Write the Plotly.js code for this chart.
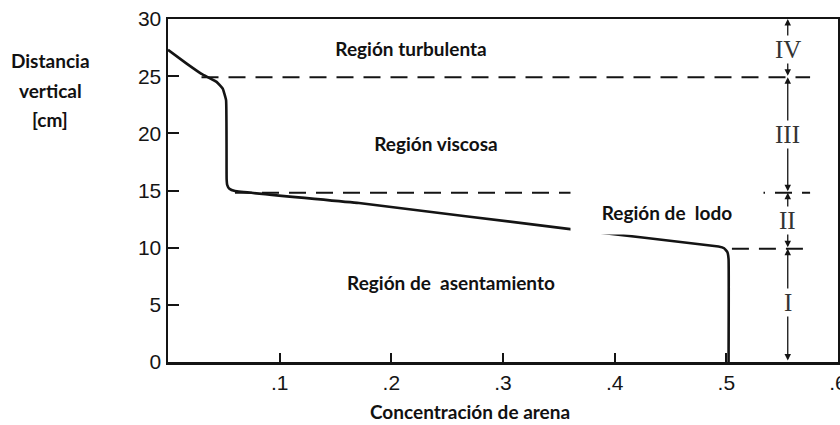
<!DOCTYPE html>
<html>
<head>
<meta charset="utf-8">
<script src="https://cdn.plot.ly/plotly-3.0.1.min.js"></script>
<style>
  html, body { margin: 0; padding: 0; background: #fff; }
  #perfil { width: 840px; height: 425px; }
</style>
</head>
<body>
<div id="perfil"></div>
<script>
// perfil de concentración (curva principal)
var conc = [0, 0.0167, 0.030, 0.0435, 0.049, 0.052, 0.0525, 0.053, 0.055, 0.06, 0.171, 0.362, 0.493, 0.498, 0.501, 0.502, 0.502];
var dist = [27.3, 26.1, 25.2, 24.5, 23.9, 22.9, 16.0, 15.5, 15.15, 14.95, 13.9, 11.6, 10.1, 9.95, 9.6, 9.0, 0];

// límites entre regiones (líneas discontinuas)
var yGuia = [24.9, 14.8, 9.9];
var xGuiaIni = [0.03, 0.06, 0.505];
var xGuiaFin = 0.575;

// cota vertical con números romanos
var xCota = 0.555;
var limites = [0, 9.9, 14.8, 24.9, 30];
var romanos = ['I', 'II', 'III', 'IV'];
var yRomanos = [5.2, 12.4, 19.9, 27.35];

// rótulos de regiones
var regiones = ['Región turbulenta', 'Región viscosa', 'Región de\u00a0 lodo', 'Región de\u00a0 asentamiento'];
var xRegion = [0.218, 0.240, 0.447, 0.2536];
var yRegion = [27.5, 19.16, 13.1, 7.0];

// ejes
var xTicks = [0.1, 0.2, 0.3, 0.4, 0.5, 0.6];
var xTickText = ['.1', '.2', '.3', '.4', '.5', '.6'];
var yTicks = [0, 5, 10, 15, 20, 25, 30];

var negro = '#141414';
var fuente = 'Lato, "Open Sans", sans-serif';

var trazas = [{
  x: conc, y: dist, type: 'scatter', mode: 'lines',
  line: {color: negro, width: 2.6, shape: 'spline', smoothing: 0.3},
  hoverinfo: 'skip'
}];
for (var i = 0; i < yGuia.length; i++) {
  trazas.push({
    x: [xGuiaIni[i], xGuiaFin], y: [yGuia[i], yGuia[i]],
    type: 'scatter', mode: 'lines',
    line: {color: negro, width: 2, dash: '17px,10px'},
    hoverinfo: 'skip'
  });
}

var notas = [];
for (var j = 0; j < romanos.length; j++) {
  notas.push({
    x: xCota, y: limites[j + 1], ax: xCota, ay: limites[j],
    xref: 'x', yref: 'y', axref: 'x', ayref: 'y',
    text: '', showarrow: true, arrowside: 'end+start',
    arrowhead: 2, arrowsize: 1, arrowwidth: 1.3, arrowcolor: negro,
    standoff: 0, startstandoff: 0
  });
}
for (var k = 0; k < romanos.length; k++) {
  notas.push({
    x: xCota, y: yRomanos[k], xref: 'x', yref: 'y',
    text: romanos[k], showarrow: false, bgcolor: '#fff', borderpad: 0,
    font: {family: '"Liberation Serif", "DejaVu Serif", serif', size: 25, color: '#333'}
  });
}
var cajas = [[330, 50], [330, 52], [192, 43], [270, 64]];
for (var m = 0; m < regiones.length; m++) {
  notas.push({
    x: xRegion[m], y: yRegion[m], xref: 'x', yref: 'y',
    xanchor: 'center', yanchor: 'middle',
    text: '<b>' + regiones[m] + '</b>', showarrow: false,
    width: cajas[m][0], height: cajas[m][1], bgcolor: '#fff', borderpad: 0,
    font: {family: fuente, size: 19, color: '#111'}
  });
}
notas.push({
  x: 0.451, y: -0.1429, xref: 'paper', yref: 'paper', showarrow: false,
  xanchor: 'center', yanchor: 'middle',
  text: '<b>Concentración de arena</b>', font: {family: fuente, size: 19, color: '#111'}
});
var tituloY = ['Distancia', 'vertical', '[cm]'];
var yTituloY = [0.8776, 0.793, 0.708];
for (var n = 0; n < tituloY.length; n++) {
  notas.push({
    x: -0.1756, y: yTituloY[n], xref: 'paper', yref: 'paper', showarrow: false,
    xanchor: 'center', yanchor: 'middle',
    text: '<b>' + tituloY[n] + '</b>', font: {family: fuente, size: 19, color: '#111'}
  });
}

var layout = {
  width: 840, height: 425,
  margin: {l: 168, r: 2, t: 19, b: 63},
  paper_bgcolor: '#fff', plot_bgcolor: '#fff',
  showlegend: false,
  xaxis: {
    range: [0, 0.6], tickvals: xTicks, ticktext: xTickText,
    ticks: 'inside', ticklen: 9, tickwidth: 2, tickcolor: negro,
    showline: true, linewidth: 2.5, linecolor: negro, mirror: true,
    showgrid: false, zeroline: false, automargin: false,
    ticklabelstandoff: 0, ticklabeloverflow: 'allow',
    tickfont: {family: '"Liberation Sans", Arial, sans-serif', size: 21, color: '#151515'}
  },
  yaxis: {
    range: [0, 30], tickvals: yTicks,
    ticks: 'inside', ticklen: 11, tickwidth: 2, tickcolor: negro,
    showline: true, linewidth: 2.5, linecolor: negro, mirror: true,
    showgrid: false, zeroline: false, automargin: false,
    ticklabeloverflow: 'allow',
    tickfont: {family: '"Liberation Sans", Arial, sans-serif', size: 21, color: '#151515'}
  },
  annotations: notas
};

Plotly.newPlot('perfil', trazas, layout, {displayModeBar: false, staticPlot: true});
</script>
</body>
</html>
